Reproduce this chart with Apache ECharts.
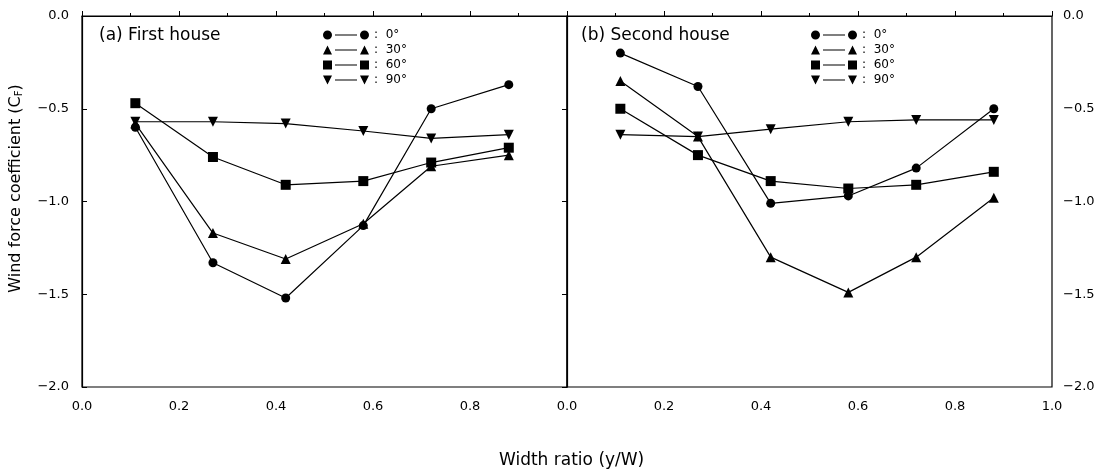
<!DOCTYPE html>
<html>
<head>
<meta charset="utf-8">
<script src="https://cdn.jsdelivr.net/npm/echarts@6/dist/echarts.min.js"></script>
<style>html,body{margin:0;padding:0;background:#fff}#c{width:1109px;height:471px}</style>
</head>
<body>
<div id="c"></div>
<script>
// Width ratio positions (y/W)
const widthRatio = [0.11, 0.27, 0.42, 0.58, 0.72, 0.88];
// Angles (legend names)
const angles = ['0°', '30°', '60°', '90°'];
// (a) First house
const first0  = [-0.60, -1.33, -1.52, -1.13, -0.50, -0.37];
const first30 = [-0.58, -1.17, -1.31, -1.12, -0.81, -0.75];
const first60 = [-0.47, -0.76, -0.91, -0.89, -0.79, -0.71];
const first90 = [-0.57, -0.57, -0.58, -0.62, -0.66, -0.64];
// (b) Second house
const second0  = [-0.20, -0.38, -1.01, -0.97, -0.82, -0.50];
const second30 = [-0.35, -0.65, -1.30, -1.49, -1.30, -0.98];
const second60 = [-0.50, -0.75, -0.89, -0.93, -0.91, -0.84];
const second90 = [-0.64, -0.65, -0.61, -0.57, -0.56, -0.56];

const FONT = 'DejaVu Sans';
const symbols = {
  '0°': {symbol: 'circle', size: 9, rotate: 0},
  '30°': {symbol: 'triangle', size: 10, rotate: 0},
  '60°': {symbol: 'rect', size: 10, rotate: 0},
  '90°': {symbol: 'triangle', size: 10, rotate: 180}
};
const icons = {
  '0°': 'path://M0,4.5 A4,4 0 1,0 9,4.5 A4,4 0 1,0 0,4.5 Z M12,4 L34,4 L34,5 L12,5 Z M37,4.5 A4,4 0 1,0 46,4.5 A4,4 0 1,0 37,4.5 Z',
  '30°': 'path://M0,9 L4.5,0 L9,9 Z M12,4 L34,4 L34,5 L12,5 Z M37,9 L41.5,0 L46,9 Z',
  '60°': 'path://M0,0 L9,0 L9,9 L0,9 Z M12,4 L34,4 L34,5 L12,5 Z M37,0 L46,0 L46,9 L37,9 Z',
  '90°': 'path://M0,0 L9,0 L4.5,9 Z M12,4 L34,4 L34,5 L12,5 Z M37,0 L46,0 L41.5,9 Z'
};

function pairs(ys) { return widthRatio.map((x, i) => [x, ys[i]]); }
function fmtNum(v) { return (v < 0 ? '\u2212' : '') + Math.abs(v).toFixed(1); }

const firstSets = [first0, first30, first60, first90];
const secondSets = [second0, second30, second60, second90];

const series = [];
[firstSets, secondSets].forEach((sets, gi) => {
  sets.forEach((ys, k) => {
    const s = symbols[angles[k]];
    series.push({
      name: angles[k], type: 'line', xAxisIndex: gi, yAxisIndex: gi,
      data: pairs(ys), symbol: s.symbol, symbolSize: s.size, symbolRotate: s.rotate,
      showAllSymbol: true,
      lineStyle: {color: '#000', width: 1.2},
      itemStyle: {color: '#000'},
      emphasis: {disabled: true}, animation: false, z: 3
    });
  });
});

function xAxis(gi) {
  return {
    type: 'value', gridIndex: gi, min: 0, max: 1, interval: 0.2,
    axisLine: {show: true, lineStyle: {color: '#000', width: 1.2}},
    axisTick: {show: true, inside: true, length: 5, lineStyle: {color: '#000'}},
    minorTick: {show: true, splitNumber: 2, length: 3, lineStyle: {color: '#000'}},
    splitLine: {show: false},
    axisLabel: {color: '#000', fontFamily: FONT, fontSize: 13, margin: 13,
      showMaxLabel: gi === 1, formatter: v => fmtNum(v)}
  };
}
function yAxis(gi) {
  return {
    type: 'value', gridIndex: gi, min: -2, max: 0, interval: 0.5,
    position: gi === 0 ? 'left' : 'right',
    axisLine: {show: true, lineStyle: {color: '#000', width: 1.2}},
    axisTick: {show: true, inside: true, length: 5, lineStyle: {color: '#000'}},
    splitLine: {show: false},
    axisLabel: {color: '#000', fontFamily: FONT, fontSize: 13, margin: gi === 0 ? 13 : 11, formatter: v => fmtNum(v)},
    name: gi === 0 ? 'Wind force coefficient (C{sub|F})' : '',
    nameLocation: 'middle', nameGap: 58, nameRotate: 90,
    nameTextStyle: {color: '#000', fontFamily: FONT, fontSize: 16, padding: [0, 0, 0, 26],
      rich: {sub: {fontSize: 10, verticalAlign: 'bottom', fontFamily: FONT, color: '#000', padding: [7, 0, 0, 0]}}}
  };
}

function legend(left) {
  return {
    left: left, top: 23, orient: 'vertical', itemWidth: 46, itemHeight: 9, itemGap: 1,
    data: angles.map(a => ({name: a, icon: icons[a]})),
    formatter: n => ':  ' + n,
    textStyle: {color: '#000', fontFamily: FONT, fontSize: 12, lineHeight: 14},
    itemStyle: {color: '#000'}, selectedMode: false, inactiveColor: '#000'
  };
}

const chart = echarts.init(document.getElementById('c'), null, {renderer: 'canvas'});
chart.setOption({
  backgroundColor: '#fff',
  animation: false,
  title: [
    {text: '(a) First house', left: 94, top: 22, textStyle: {color: '#000', fontFamily: FONT, fontSize: 17, fontWeight: 'normal'}},
    {text: '(b) Second house', left: 576, top: 22, textStyle: {color: '#000', fontFamily: FONT, fontSize: 17, fontWeight: 'normal'}},
    {text: 'Width ratio (y/W)', left: 494, top: 447, textStyle: {color: '#000', fontFamily: FONT, fontSize: 17, fontWeight: 'normal'}}
  ],
  legend: [legend(318), legend(806)],
  grid: [
    {left: 82, right: 1109 - 567, top: 16, bottom: 471 - 387, show: true, borderColor: '#000', borderWidth: 1.2, backgroundColor: 'transparent'},
    {left: 567, right: 1109 - 1052, top: 16, bottom: 471 - 387, show: true, borderColor: '#000', borderWidth: 1.2, backgroundColor: 'transparent'}
  ],
  xAxis: [xAxis(0), xAxis(1)],
  yAxis: [yAxis(0), yAxis(1)],
  series: series
});
</script>
</body>
</html>
